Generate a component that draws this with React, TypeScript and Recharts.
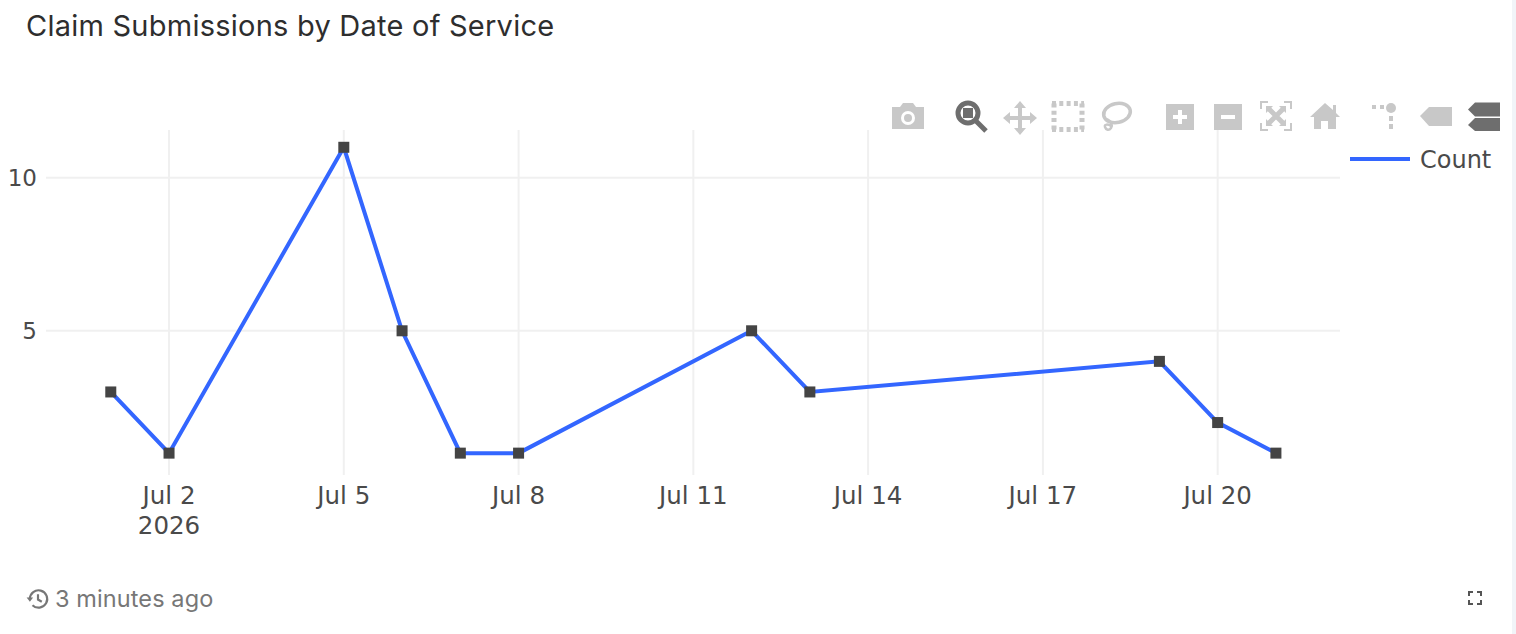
import { LineChart, Line, XAxis, YAxis, CartesianGrid, Legend } from 'recharts';

const days = [1, 2, 5, 6, 7, 8, 12, 13, 19, 20, 21];
const counts = [3, 1, 11, 5, 1, 1, 5, 3, 4, 2, 1];
const xTicks = [2, 5, 8, 11, 14, 17, 20];
const yTicks = [5, 10];
const data = days.map((day, i) => ({ day, count: counts[i] }));

const axisFont = '"DejaVu Sans", sans-serif';
const uiFont = 'Inter, sans-serif';
const textColor = '#4a4a4a';
const off = '#c8c8c8';
const on = '#6e6e6e';

const SquareDot = (props: any) => (
  <rect key={props.index} x={props.cx - 5.5} y={props.cy - 5.5} width={11} height={11} fill="#444444" />
);

const DateTick = (props: any) => {
  const { x, y, payload } = props;
  return (
    <g>
      <text x={x} y={y + 21} textAnchor="middle" fontFamily={axisFont} fontSize={24.5} fill={textColor}>
        {`Jul ${payload.value}`}
      </text>
      {payload.value === 2 && (
        <text x={x} y={y + 51} textAnchor="middle" fontFamily={axisFont} fontSize={24.5} fill={textColor}>
          2026
        </text>
      )}
    </g>
  );
};

const LegendLine = () => (
  <svg width={150} height={30} style={{ display: 'block' }}>
    <line x1={0} y1={15} x2={60} y2={15} stroke="#3366ff" strokeWidth={4} />
    <text x={70} y={24} fontFamily={axisFont} fontSize={24} fill={textColor}>Count</text>
  </svg>
);

// modebar icons, drawn by hand
const Toolbar = () => (
  <svg width={1516} height={140} style={{ position: 'absolute', left: 0, top: 0 }}>
    {/* camera */}
    <path d="M892 107h8l3-4h10l3 4h8v22h-32z" fill={off} />
    <circle cx={908} cy={118} r={7} fill="#fff" />
    <circle cx={908} cy={118} r={4} fill={off} />
    {/* zoom */}
    <circle cx={968} cy={113} r={10} fill="#fff" stroke={on} strokeWidth={5} />
    <rect x={963} y={108} width={10} height={10} fill={on} />
    <line x1={976} y1={121} x2={986} y2={131} stroke={on} strokeWidth={5} />
    {/* pan */}
    <path d="M1020 101l6 7h-4v8h8v-4l7 6-7 6v-4h-8v8h4l-6 7-6-7h4v-8h-8v4l-7-6 7-6v4h8v-8h-4z" fill={off} />
    {/* box select */}
    <path d="M1052 103.5h32M1052 129.5h32M1054 103.5v26M1082 103.5v26" fill="none" stroke={off} strokeWidth={5} strokeDasharray="4 3.3" />
    {/* lasso */}
    <ellipse cx={1117} cy={113} rx={13.5} ry={9.5} fill="none" stroke={off} strokeWidth={3.5} transform="rotate(-12 1117 113)" />
    <path d="M1107 119c4 2 6 6 4 9s-5 2-6-1 3-3 6-1" fill="none" stroke={off} strokeWidth={2.5} />
    {/* zoom in / out */}
    <rect x={1166} y={104} width={28} height={26} fill={off} />
    <path d="M1180 110v14M1173 117h14" stroke="#fff" strokeWidth={4} />
    <rect x={1214} y={104} width={28} height={26} fill={off} />
    <path d="M1221 117h14" stroke="#fff" strokeWidth={4} />
    {/* autoscale */}
    <path d="M1261 109v-7h7M1284 102h7v7M1291 123v7h-7M1268 130h-7v-7" fill="none" stroke={off} strokeWidth={2} />
    <path d="M1268 108l16 16M1284 108l-16 16" stroke={off} strokeWidth={5} />
    <path d="M1266 106h7l-7 7zM1286 106h-7l7 7zM1266 126h7l-7-7zM1286 126h-7l7-7z" fill={off} />
    {/* home */}
    <path d="M1310 117l15-14 8 7v-5h3v8l4 4h-4v12h-8v-8h-7v8h-7v-12z" fill={off} />
    {/* spikelines */}
    <circle cx={1391} cy={108} r={5} fill={off} />
    <rect x={1372} y={105} width={4} height={4} fill={off} />
    <rect x={1380} y={105} width={4} height={4} fill={off} />
    <rect x={1389} y={116} width={4} height={5} fill={off} />
    <rect x={1389} y={124} width={4} height={5} fill={off} />
    {/* hover closest */}
    <path d="M1420 116l9-9h23v19h-23z" fill={off} />
    {/* hover compare */}
    <path d="M1468 112l7-7h25v14h-25z" fill={on} transform="translate(0,-2.5)" />
    <path d="M1468 124l7-7h25v13h-25z" fill={on} transform="translate(0,1)" />
  </svg>
);

const App = () => (
  <div style={{ position: 'absolute', left: 0, top: 0, width: 1516, height: 634, background: '#fff', overflow: 'hidden' }}>
    <div style={{ position: 'absolute', left: 26, top: 8, fontFamily: uiFont, fontSize: 29, color: '#2e2e2e', whiteSpace: 'nowrap', letterSpacing: 0.24 }}>
      Claim Submissions by Date of Service
    </div>
    <LineChart
      width={1516}
      height={634}
      data={data}
      margin={{ top: 130, right: 26, bottom: 0, left: 0 }}
      style={{ position: 'absolute', left: 0, top: 0 }}
    >
      <CartesianGrid stroke="#f0f0f0" strokeWidth={2} syncWithTicks />
      <XAxis
        dataKey="day"
        type="number"
        domain={[-0.112, 22.1]}
        ticks={xTicks}
        interval={0}
        axisLine={false}
        tickLine={false}
        height={159}
        tick={<DateTick />}
      />
      <YAxis
        type="number"
        domain={[0.285, 11.565]}
        ticks={yTicks}
        width={46}
        axisLine={false}
        tickLine={false}
        tickMargin={3}
        tick={{ fontFamily: axisFont, fontSize: 23, fill: textColor }}
      />
      <Legend
        layout="vertical"
        align="right"
        verticalAlign="top"
        content={<LegendLine />}
        wrapperStyle={{ position: 'absolute', left: 1350, top: 144, width: 150 }}
      />
      <Line
        dataKey="count"
        name="Count"
        type="linear"
        stroke="#3366ff"
        strokeWidth={4}
        dot={<SquareDot />}
        activeDot={false}
        isAnimationActive={false}
      />
    </LineChart>
    <Toolbar />
    <svg width={26} height={26} viewBox="0 0 24 24" style={{ position: 'absolute', left: 25, top: 586 }}>
      <path d="M4.5 12a8 8 0 1 1 2.4 5.7" fill="none" stroke="#777" strokeWidth={2} />
      <path d="M1.5 10.5h6L4.5 14.5z" fill="#777" />
      <path d="M12 7.5V12.5l3.5 2" fill="none" stroke="#777" strokeWidth={2} />
    </svg>
    <div style={{ position: 'absolute', left: 55, top: 584, fontFamily: uiFont, fontSize: 23.5, color: '#777777', whiteSpace: 'nowrap', letterSpacing: 0.1 }}>
      3 minutes ago
    </div>
    <svg width={14} height={14} style={{ position: 'absolute', left: 1468, top: 591 }}>
      <path d="M1 5V1h4M9 1h4v4M13 9v4H9M5 13H1V9" fill="none" stroke="#555" strokeWidth={2} />
    </svg>
    <div style={{ position: 'absolute', left: 1512, top: 0, width: 4, height: 634, background: '#f1f4f8' }} />
  </div>
);

export default App;
